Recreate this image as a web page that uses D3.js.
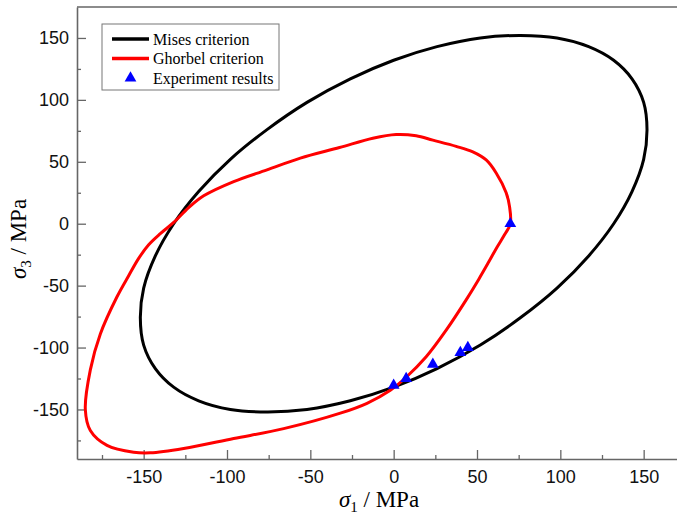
<!DOCTYPE html>
<html>
<head>
<meta charset="utf-8">
<script src="https://cdn.jsdelivr.net/npm/d3@7"></script>
<style>
  body { margin: 0; background: #fff; }
  svg { display: block; }
</style>
</head>
<body>
<div id="chart"></div>
<script>
// Yield loci in the sigma1 - sigma3 plane (MPa)
var misesS1 = [132, 143, 150, 152, 150, 143, 132, 117, 98, 76, 52, 26, 0, -26, -52, -76, -98, -117,
               -132, -143, -150, -152, -150, -143, -132, -117, -98, -76, -52, -26, 0, 26, 52, 76, 98, 117];
var misesS3 = [132, 117, 98, 76, 52, 26, 0, -26, -52, -76, -98, -117, -132, -143, -150, -152, -150, -143,
               -132, -117, -98, -76, -52, -26, 0, 26, 52, 76, 98, 117, 132, 143, 150, 152, 150, 143];

var ghorbelS1 = [70, 69.5, 67.5, 61.5, 55.5, 47.5, 37.5, 23.5, 13.5, 1.5, -12.5, -32.5, -56, -76, -96, -114,
                 -123, -132, -140, -147, -153, -159, -166, -176, -182, -185, -182, -172, -156, -146, -126, -96, -66, -32,
                 -16, -2, 7.5, 19.5, 31.5, 43.5, 51, 57, 62, 66.5];
var ghorbelS3 = [0, 14, 25, 41, 51.5, 58, 62.5, 67.5, 71, 72, 69, 61.5, 53, 43.5, 34, 22.5,
                 13, 1, -8, -17, -28, -42, -59, -89, -118, -150, -167, -179, -184.5, -185, -181.5, -173.5, -165.5, -153,
                 -145, -134.5, -124, -107.5, -86, -61.5, -45, -31, -19, -9];

var expS1 = [0, 7.5, 23.5, 40, 44.5, 70];
var expS3 = [-130.5, -125, -113.5, -104, -100, 0];

var xTicks = [-150, -100, -50, 0, 50, 100, 150];
var yTicks = [-150, -100, -50, 0, 50, 100, 150];
var xMinor = [-175, -125, -75, -25, 25, 75, 125];
var yMinor = [-175, -125, -75, -25, 25, 75, 125];

var legendLabels = ["Mises criterion", "Ghorbel criterion", "Experiment results"];

var svgWidth = 677, svgHeight = 521;
var chartMargin = { top: 7, right: 0, bottom: 62, left: 77 };
var chartWidth = svgWidth - chartMargin.left - chartMargin.right;
var chartHeight = svgHeight - chartMargin.top - chartMargin.bottom;

var svg = d3.select("#chart").append("svg")
  .attr("width", svgWidth)
  .attr("height", svgHeight);

var chartGroup = svg.append("g")
  .attr("transform", `translate(${chartMargin.left}, ${chartMargin.top})`);

var xScale = d3.scaleLinear().domain([-190, 170]).range([0, chartWidth]);
var yScale = d3.scaleLinear().domain([-190, 175]).range([chartHeight, 0]);

var axisColor = "#666";
var tickFont = "Arial, 'Liberation Sans', sans-serif";
// plain hyphen for negatives, like the original figure
var plainFormat = d => String(d);

// minor ticks first (no labels)
chartGroup.append("g")
  .attr("transform", `translate(0, ${chartHeight})`)
  .call(d3.axisBottom(xScale).tickValues(xMinor).tickSize(-4).tickFormat(""))
  .call(g => g.select(".domain").remove())
  .call(g => g.selectAll("line").attr("stroke", axisColor).attr("stroke-width", 1.3));

chartGroup.append("g")
  .call(d3.axisLeft(yScale).tickValues(yMinor).tickSize(-4).tickFormat(""))
  .call(g => g.select(".domain").remove())
  .call(g => g.selectAll("line").attr("stroke", axisColor).attr("stroke-width", 1.3));

// major ticks, inward
var bottomAxis = d3.axisBottom(xScale).tickValues(xTicks).tickFormat(plainFormat)
  .tickSizeInner(-9).tickSizeOuter(0).tickPadding(11);
var leftAxis = d3.axisLeft(yScale).tickValues(yTicks).tickFormat(plainFormat)
  .tickSizeInner(-9).tickSizeOuter(0).tickPadding(8);

chartGroup.append("g")
  .attr("transform", `translate(0, ${chartHeight})`)
  .call(bottomAxis)
  .call(g => g.select(".domain").attr("stroke", axisColor).attr("stroke-width", 1.6))
  .call(g => g.selectAll("line").attr("stroke", axisColor).attr("stroke-width", 1.3))
  .call(g => g.selectAll("text").attr("font-family", tickFont).attr("font-size", 18).attr("fill", "#111"));

chartGroup.append("g")
  .call(leftAxis)
  .call(g => g.select(".domain").attr("stroke", axisColor).attr("stroke-width", 1.6))
  .call(g => g.selectAll("line").attr("stroke", axisColor).attr("stroke-width", 1.3))
  .call(g => g.selectAll("text").attr("font-family", tickFont).attr("font-size", 18).attr("fill", "#111"));

// top border
chartGroup.append("line")
  .attr("x1", 0).attr("x2", chartWidth)
  .attr("y1", 0).attr("y2", 0)
  .attr("stroke", axisColor).attr("stroke-width", 1.6);

// curves
var line = d3.line()
  .x(d => xScale(d[0]))
  .y(d => yScale(d[1]))
  .curve(d3.curveCatmullRomClosed.alpha(0.5));

var misesData = misesS1.map((v, i) => [v, misesS3[i]]);
var ghorbelData = ghorbelS1.map((v, i) => [v, ghorbelS3[i]]);
var expData = expS1.map((v, i) => [v, expS3[i]]);

chartGroup.append("path")
  .datum(misesData)
  .attr("d", line)
  .attr("fill", "none")
  .attr("stroke", "#000")
  .attr("stroke-width", 3);

chartGroup.append("path")
  .datum(ghorbelData)
  .attr("d", line)
  .attr("fill", "none")
  .attr("stroke", "#ff0000")
  .attr("stroke-width", 3);

var triangle = d3.symbol().type(d3.symbolTriangle).size(60);

chartGroup.selectAll(".exp")
  .data(expData)
  .enter()
  .append("path")
  .attr("class", "exp")
  .attr("d", triangle)
  .attr("transform", d => `translate(${xScale(d[0])}, ${yScale(d[1])})`)
  .attr("fill", "#0000ff");

// legend
var legend = svg.append("g").attr("transform", "translate(102, 24)");
legend.append("rect")
  .attr("width", 177).attr("height", 66)
  .attr("fill", "#fff")
  .attr("stroke", "#777").attr("stroke-width", 1);

var serif = "'Times New Roman', 'Liberation Serif', serif";
var legendColors = ["#000", "#ff0000", "#0000ff"];
legendLabels.forEach(function(label, i) {
  var ly = 15 + i * 19.5;
  if (i < 2) {
    legend.append("line")
      .attr("x1", 10).attr("x2", 47)
      .attr("y1", ly).attr("y2", ly)
      .attr("stroke", legendColors[i]).attr("stroke-width", 3.5);
  } else {
    legend.append("path")
      .attr("d", triangle)
      .attr("transform", `translate(28.5, ${ly})`)
      .attr("fill", legendColors[i]);
  }
  legend.append("text")
    .attr("x", 51).attr("y", ly + 5.5)
    .attr("font-family", serif)
    .attr("font-size", 16)
    .attr("fill", "#000")
    .text(label);
});

// axis titles
var xTitle = svg.append("text")
  .attr("x", 379).attr("y", 507)
  .attr("text-anchor", "middle")
  .attr("font-family", serif)
  .attr("font-size", 23)
  .attr("fill", "#000");
xTitle.append("tspan").attr("font-style", "italic").text("σ");
xTitle.append("tspan").attr("font-size", 15).attr("dy", 5).text("1");
xTitle.append("tspan").attr("dy", -5).text(" / MPa");

var yTitle = svg.append("text")
  .attr("transform", "translate(26, 239) rotate(-90)")
  .attr("text-anchor", "middle")
  .attr("font-family", serif)
  .attr("font-size", 23)
  .attr("fill", "#000");
yTitle.append("tspan").attr("font-style", "italic").text("σ");
yTitle.append("tspan").attr("font-size", 15).attr("dy", 5).text("3");
yTitle.append("tspan").attr("dy", -5).text(" / MPa");
</script>
</body>
</html>
